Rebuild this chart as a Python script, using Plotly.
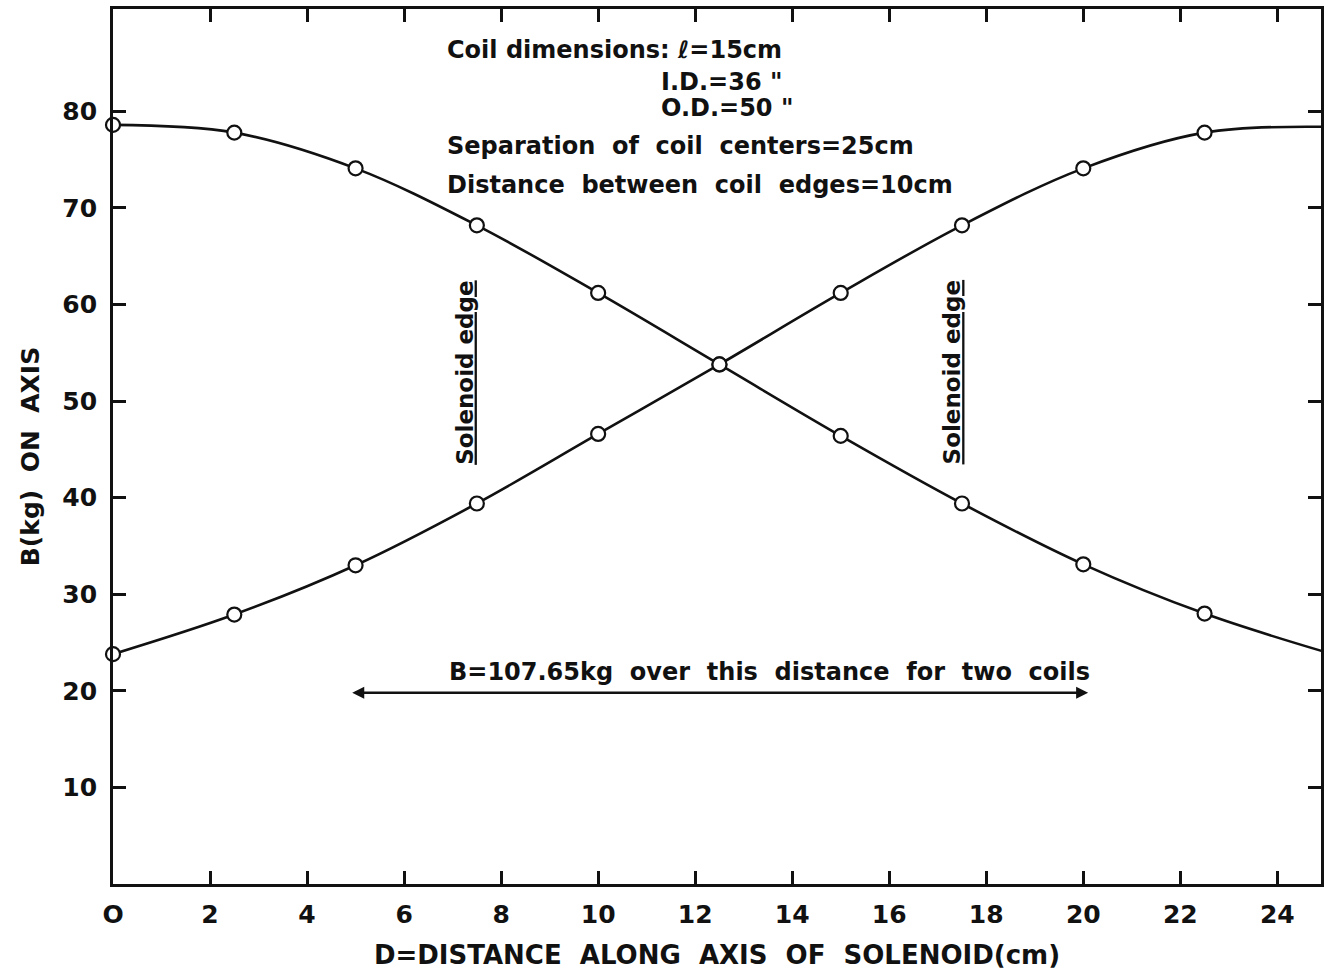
import plotly.graph_objects as go

# ---- data ----
x_meas = [0, 2.5, 5, 7.5, 10, 12.5, 15, 17.5, 20, 22.5]
b_coil1 = [78.6, 77.8, 74.1, 68.2, 61.2, 53.8, 46.4, 39.4, 33.1, 28.0]
b_coil2 = [23.8, 27.9, 33.0, 39.4, 46.6, 53.8, 61.2, 68.2, 74.1, 77.8]
x_end = [25]
b_coil1_end = [24.0]
b_coil2_end = [78.4]

x_ticks = list(range(0, 25, 2))
x_ticktext = ["O"] + [str(v) for v in x_ticks[1:]]
y_ticks = [10, 20, 30, 40, 50, 60, 70, 80]

FONT = "DejaVu Sans"
BLACK = "#111111"
SP = "\u00a0\u00a0"

fig = go.Figure()

for b, b_end in [(b_coil1, b_coil1_end), (b_coil2, b_coil2_end)]:
    fig.add_trace(go.Scatter(
        x=x_meas + x_end, y=b + b_end, mode="lines",
        line=dict(color=BLACK, width=2.6, shape="spline", smoothing=1.0),
        hoverinfo="skip", showlegend=False))

for b in (b_coil1, b_coil2):
    fig.add_trace(go.Scatter(
        x=x_meas, y=b, mode="markers", cliponaxis=False,
        marker=dict(symbol="circle", size=14, color="white",
                    line=dict(color=BLACK, width=2.2)),
        showlegend=False))

axis_common = dict(
    showline=True, linecolor=BLACK, linewidth=2.8, mirror="ticks",
    ticks="inside", ticklen=13, tickwidth=2.6, tickcolor=BLACK,
    showgrid=False, zeroline=False,
    tickfont=dict(family=FONT, size=25, color=BLACK, weight="bold"),
)

fig.update_xaxes(
    range=[0, 24.9], tickvals=x_ticks, ticktext=x_ticktext,
    ticklabelstandoff=6,
    title=dict(text=SP.join("D=DISTANCE ALONG AXIS OF SOLENOID(cm)".split(" ")),
               font=dict(family=FONT, size=26, color=BLACK, weight="bold"),
               standoff=18),
    **axis_common)
fig.update_yaxes(
    range=[0, 90.6], tickvals=y_ticks,
    ticklabelstandoff=8,
    **axis_common)

ann_font = dict(family=FONT, size=24, color=BLACK, weight="bold")
annotations = [
    dict(x=446, y=50, text="Coil dimensions: ℓ=15cm"),
    dict(x=660, y=82, text="I.D.=36 \""),
    dict(x=660, y=108, text="O.D.=50 \""),
    dict(x=446, y=146, text=SP.join("Separation of coil centers=25cm".split(" "))),
    dict(x=446, y=185, text=SP.join("Distance between coil edges=10cm".split(" "))),
    dict(x=448, y=672, text=SP.join("B=107.65kg over this distance for two coils".split(" "))),
]
layout_anns = []
for a in annotations:
    layout_anns.append(dict(
        xref="paper", yref="paper",
        x=(a["x"] - 113) / (1324 - 113), y=(884 - a["y"]) / (884 - 9),
        text=a["text"], xanchor="left", yanchor="middle",
        showarrow=False, font=ann_font))

# y-axis title placed as rotated text
layout_anns.append(dict(
    xref="paper", yref="paper",
    x=(30 - 113) / (1324 - 113), y=(884 - 457) / (884 - 9),
    text=SP.join("B(kg) ON AXIS".split(" ")), textangle=-90, showarrow=False,
    xanchor="center", yanchor="middle",
    font=dict(family=FONT, size=25, color=BLACK, weight="bold")))

for xd in (7.25, 17.3):
    layout_anns.append(dict(
        x=xd, y=53.0, xref="x", yref="y", text="<u>Solenoid edge</u>",
        textangle=-90, showarrow=False,
        font=dict(family=FONT, size=23, color=BLACK, weight="bold"),
        xanchor="center", yanchor="middle"))

# double-headed arrow
layout_anns.append(dict(
    x=20.1, y=19.8, ax=4.9, ay=19.8, xref="x", yref="y", axref="x", ayref="y",
    text="", showarrow=True, arrowhead=2, startarrowhead=2, arrowside="end+start",
    arrowsize=1.0, startarrowsize=1.0, arrowwidth=2.4, arrowcolor=BLACK))

fig.update_layout(
    width=1324, height=980,
    margin=dict(l=113, r=0, t=9, b=96),
    paper_bgcolor="white", plot_bgcolor="white",
    annotations=layout_anns,
    showlegend=False,
)

fig.write_html("out.html")
